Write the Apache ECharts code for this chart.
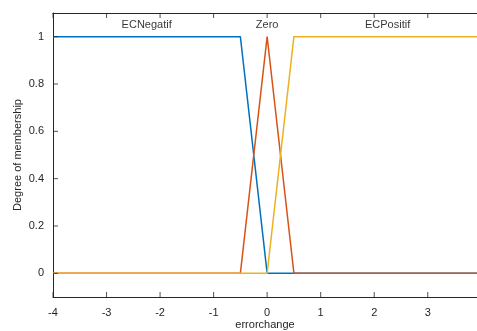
<!DOCTYPE html>
<html><head><meta charset="utf-8">
<script src="https://cdn.jsdelivr.net/npm/echarts@6/dist/echarts.min.js"></script>
<style>html,body{margin:0;padding:0;background:#fff}#c{width:477px;height:331px}</style>
</head><body><div id="c"></div>
<script>
const mfNames = ['ECNegatif', 'Zero', 'ECPositif'];
const negX = [-4, -0.5, 0, 4];
const negY = [1, 1, 0, 0];
const zeroX = [-4, -0.5, 0, 0.5, 4];
const zeroY = [0, 0, 1, 0, 0];
const posX = [-4, 0, 0.5, 4];
const posY = [0, 0, 1, 1];
const labelX = [-2.25, 0, 2.25];
const labelY = [1.05, 1.05, 1.05];
const xTicks = [-4, -3, -2, -1, 0, 1, 2, 3];
const yTicks = [0, 0.2, 0.4, 0.6, 0.8, 1];
const colors = ['#0072BD', '#D95319', '#EDB120'];
const xMin = -4, xMax = 3.92, yMin = -0.1, yMax = 1.1;

const pair = (xs, ys) => xs.map((x, i) => [x, ys[i]]);
const font = 'Liberation Sans, Arial, sans-serif';
const chart = echarts.init(document.getElementById('c'));
const lineS = (xs, ys, c) => ({
  type: 'line', data: pair(xs, ys), showSymbol: false, symbol: 'none',
  lineStyle: { color: c, width: 1.5 }, itemStyle: { color: c }, animation: false, z: 3
});
const tickS = (data, size, offset) => ({
  type: 'scatter', data, symbol: 'rect', symbolSize: size, symbolOffset: offset,
  itemStyle: { color: '#262626' }, silent: true, clip: false, z: 5
});
chart.setOption({
  animation: false,
  grid: { left: 53, right: 0, top: 13, bottom: 34, show: false, containLabel: false, outerBoundsMode: 'none' },
  xAxis: [{
    type: 'value', min: xMin, max: xMax,
    name: 'errorchange', nameLocation: 'middle', nameGap: 22, nameMoveOverlap: false,
    nameTextStyle: { color: '#262626', fontSize: 11, fontFamily: font },
    axisLine: { show: true, onZero: false, lineStyle: { color: '#262626', width: 1 } },
    axisTick: { show: false },
    axisLabel: { color: '#262626', fontSize: 11, fontFamily: font, margin: 10, customValues: xTicks },
    splitLine: { show: false }
  }, {
    type: 'value', min: xMin, max: xMax, position: 'top',
    axisLine: { show: true, onZero: false, lineStyle: { color: '#262626', width: 1 } },
    axisTick: { show: false },
    axisLabel: { show: false }, splitLine: { show: false }
  }],
  yAxis: {
    type: 'value', min: yMin, max: yMax, position: 'left',
    name: 'Degree of membership', nameLocation: 'middle', nameGap: 30, nameMoveOverlap: false,
    nameTextStyle: { color: '#262626', fontSize: 11, fontFamily: font },
    axisLine: { show: true, onZero: false, lineStyle: { color: '#262626', width: 1 } },
    axisTick: { show: false },
    axisLabel: { color: '#262626', fontSize: 11, fontFamily: font, margin: 9, customValues: yTicks,
      formatter: v => String(Math.round(v * 10) / 10) },
    splitLine: { show: false }
  },
  series: [
    lineS(negX, negY, colors[0]),
    lineS(zeroX, zeroY, colors[1]),
    lineS(posX, posY, colors[2]),
    tickS(xTicks.map(x => [x, yMin]), [1, 5], [0, -2.5]),
    tickS(xTicks.map(x => [x, yMax]), [1, 5], [0, 2.5]),
    tickS(yTicks.map(y => [xMin, y]), [5, 1], [2.5, 0]),
    {
      type: 'scatter', symbolSize: 0, silent: true,
      data: labelX.map((x, i) => ({ value: [x, labelY[i]], name: mfNames[i] })),
      label: { show: true, position: 'inside', formatter: p => p.name,
        color: '#000', fontSize: 11, fontFamily: font }
    }
  ]
});
</script></body></html>
